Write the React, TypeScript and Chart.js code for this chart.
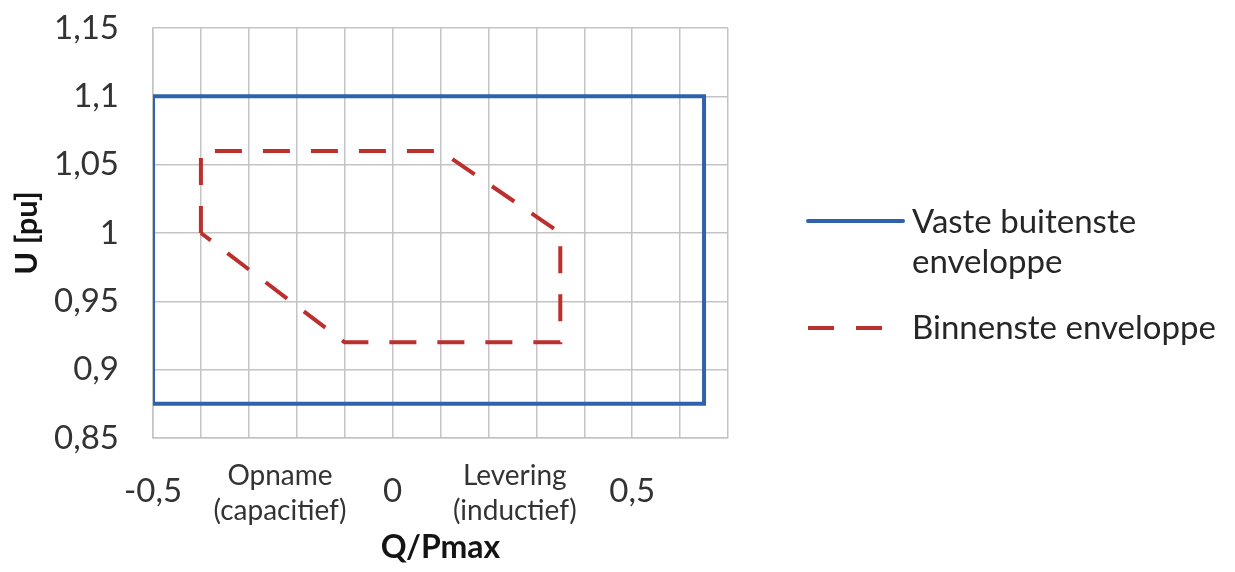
import React, { useEffect, useRef } from "react";
import { Chart, registerables } from "chart.js";

Chart.register(...registerables);

// ---- data ----
const outerQ = [-0.5, -0.5, 0.65, 0.65, -0.5];
const outerU = [0.875, 1.1, 1.1, 0.875, 0.875];
const innerQ = [-0.4, -0.4, 0.1, 0.35, 0.35, -0.1, -0.4];
const innerU = [1.0, 1.06, 1.06, 1.0, 0.92, 0.92, 1.0];
const seriesNames = [["Vaste buitenste", "enveloppe"], ["Binnenste enveloppe"]];
const xGridTicks = [-0.5, -0.4, -0.3, -0.2, -0.1, 0, 0.1, 0.2, 0.3, 0.4, 0.5, 0.6, 0.7];
const xNumberTicks = [-0.5, 0, 0.5];
const regionTicks = [-0.235, 0.255];
const regionLabels = [["Opname", "(capacitief)"], ["Levering", "(inductief)"]];
const xMin = -0.5;
const xMax = 0.7;
const yMin = 0.85;
const yMax = 1.15;
const yStep = 0.05;
const xTitle = "Q/Pmax";
const yTitle = "U [pu]";

const FONT = "Lato, 'Open Sans', sans-serif";
const BLUE = "#2f62ad";
const RED = "#bb2f2c";
const GRID = "#c4c4c4";
const TICK = "#333333";
const TITLE = "#141414";

const fmt = (v: number) => String(Math.round(v * 1000) / 1000).replace(".", ",");
const near = (a: number, b: number) => Math.abs(a - b) < 1e-6;

const legendPlugin = {
  id: "sideLegend",
  afterDraw(chart: any) {
    const { ctx, chartArea } = chart;
    const x0 = chartArea.right + 80;
    const lineLen = 95;
    const tx = x0 + lineLen + 9;
    ctx.save();
    ctx.font = `33px ${FONT}`;
    ctx.fillStyle = "#262626";
    ctx.textAlign = "left";
    ctx.textBaseline = "alphabetic";
    // row 1
    const y1 = chartArea.top + 193;
    ctx.strokeStyle = BLUE;
    ctx.lineWidth = 4;
    ctx.lineCap = "round";
    ctx.beginPath();
    ctx.moveTo(x0, y1);
    ctx.lineTo(x0 + lineLen, y1);
    ctx.stroke();
    seriesNames[0].forEach((t, i) => ctx.fillText(t, tx, y1 + 12 + i * 40));
    // row 2
    const y2 = chartArea.top + 300;
    ctx.strokeStyle = RED;
    ctx.lineCap = "butt";
    ctx.setLineDash([26, 22]);
    ctx.beginPath();
    ctx.moveTo(x0, y2);
    ctx.lineTo(x0 + 77, y2);
    ctx.stroke();
    ctx.setLineDash([]);
    seriesNames[1].forEach((t, i) => ctx.fillText(t, tx, y2 + 11 + i * 40));
    ctx.restore();
  },
};

export default function App() {
  const ref = useRef<HTMLCanvasElement | null>(null);
  useEffect(() => {
    if (!ref.current) return;
    const chart = new Chart(ref.current, {
      type: "scatter",
      data: {
        datasets: [
          {
            label: seriesNames[0].join(" "),
            data: outerQ.map((q, i) => ({ x: q, y: outerU[i] })),
            showLine: true,
            borderColor: BLUE,
            backgroundColor: BLUE,
            borderWidth: 4,
            pointRadius: 0,
            borderJoinStyle: "miter",
          },
          {
            label: seriesNames[1].join(" "),
            data: innerQ.map((q, i) => ({ x: q, y: innerU[i] })),
            showLine: true,
            borderColor: RED,
            backgroundColor: RED,
            borderWidth: 4,
            borderDash: [27, 21],
            pointRadius: 0,
          },
        ],
      },
      options: {
        animation: false,
        responsive: true,
        maintainAspectRatio: false,
        layout: { padding: { top: 28, right: 507, left: 0, bottom: 0 } },
        plugins: { legend: { display: false }, tooltip: { enabled: false } },
        scales: {
          x: {
            type: "linear",
            min: xMin,
            max: xMax,
            afterBuildTicks: (s: any) => {
              s.ticks = [...xGridTicks, ...regionTicks]
                .sort((a, b) => a - b)
                .map((v) => ({ value: v }));
            },
            afterFit: (s: any) => {
              s.height = 134;
            },
            grid: {
              color: (c: any) =>
                c.tick && regionTicks.some((r) => near(r, c.tick.value)) ? "rgba(0,0,0,0)" : GRID,
              lineWidth: 1.5,
              drawTicks: false,
            },
            border: { color: GRID, width: 1.5 },
            ticks: {
              autoSkip: false,
              maxRotation: 0,
              minRotation: 0,
              padding: 38,
              crossAlign: "center",
              color: TICK,
              font: (c: any) =>
                c.tick && regionTicks.some((r) => near(r, c.tick.value))
                  ? { family: FONT, size: 28, lineHeight: 1.25 }
                  : { family: FONT, size: 33, lineHeight: 1.2 },
              callback: (v: any) => {
                const n = Number(v);
                const ri = regionTicks.findIndex((r) => near(r, n));
                if (ri >= 0) return regionLabels[ri];
                if (xNumberTicks.some((t) => near(t, n))) return fmt(n);
                return "";
              },
            },
            title: {
              display: true,
              text: xTitle,
              color: TITLE,
              font: { family: FONT, size: 32, weight: "bold" },
              padding: { top: 0, bottom: 5 },
            },
          },
          y: {
            min: yMin,
            max: yMax,
            afterFit: (s: any) => {
              s.width = 153;
              s.paddingTop = 10;
              s.paddingBottom = 10;
            },
            grid: { color: GRID, lineWidth: 1.5, drawTicks: false },
            border: { color: GRID, width: 1.5 },
            ticks: {
              stepSize: yStep,
              padding: 34,
              color: TICK,
              font: { family: FONT, size: 33 },
              callback: (v: any) => fmt(Number(v)),
            },
            title: {
              display: true,
              text: yTitle,
              color: TITLE,
              font: { family: FONT, size: 31, weight: "bold" },
              padding: { top: 8, bottom: 0 },
            },
          },
        },
      },
      plugins: [legendPlugin],
    } as any);
    return () => chart.destroy();
  }, []);
  return (
    <div style={{ position: "absolute", left: 0, top: 0, width: 1235, height: 572, background: "#fff" }}>
      <canvas ref={ref} />
    </div>
  );
}
